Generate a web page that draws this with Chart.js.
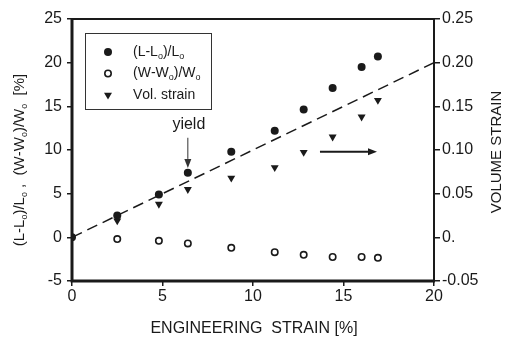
<!DOCTYPE html>
<html>
<head>
<meta charset="utf-8">
<script src="https://cdn.jsdelivr.net/npm/chart.js@4"></script>
<style>
  html, body { margin: 0; padding: 0; background: #fff; }
  #wrap { width: 505px; height: 338px; }
</style>
</head>
<body>
<div id="wrap"><canvas id="strainChart" width="505" height="338"></canvas></div>
<script>
// engineering strain [%] at each measurement
const strainX = [0, 2.5, 4.8, 6.4, 8.8, 11.2, 12.8, 14.4, 16.0, 16.9];
// (L-Lo)/Lo [%]
const lengthStrain = [0, 2.5, 4.9, 7.4, 9.8, 12.2, 14.65, 17.1, 19.5, 20.7];
// (W-Wo)/Wo [%]
const widthStrainX = [2.5, 4.8, 6.4, 8.8, 11.2, 12.8, 14.4, 16.0, 16.9];
const widthStrain = [-0.2, -0.4, -0.7, -1.2, -1.7, -2.0, -2.25, -2.25, -2.35];
// volume strain (right axis)
const volStrainX = [2.5, 4.8, 6.4, 8.8, 11.2, 12.8, 14.4, 16.0, 16.9];
const volStrain = [0.019, 0.038, 0.055, 0.068, 0.080, 0.0975, 0.115, 0.138, 0.157];
// dashed reference line
const refX = [0, 20];
const refY = [0, 20];

const leftTicks = [-5, 0, 5, 10, 15, 20, 25];
const rightTicks = [-0.05, 0, 0.05, 0.10, 0.15, 0.20, 0.25];
const bottomTicks = [0, 5, 10, 15, 20];

const FONT = '"Liberation Sans", Arial, sans-serif';
const INK = '#1a1a1a';

function pts(xs, ys) {
    return xs.map((x, i) => ({ x: x, y: ys[i] }));
}

// draws text where "_o" means a subscript o
function richText(ctx, text, x, y, size, align) {
    const parts = [];
    for (let i = 0; i < text.length; i++) {
        if (text[i] === '_') { parts.push({ t: text[i + 1], sub: true }); i++; }
        else parts.push({ t: text[i], sub: false });
    }
    const subSize = Math.round(size * 0.62);
    let w = 0;
    parts.forEach(p => {
        ctx.font = (p.sub ? subSize : size) + 'px ' + FONT;
        p.w = ctx.measureText(p.t).width;
        w += p.w;
    });
    let cx = align === 'center' ? x - w / 2 : x;
    ctx.textBaseline = 'middle';
    ctx.textAlign = 'left';
    parts.forEach(p => {
        ctx.font = (p.sub ? subSize : size) + 'px ' + FONT;
        ctx.fillText(p.t, cx, p.sub ? y + size * 0.32 : y);
        cx += p.w;
    });
}

function arrow(ctx, x1, y1, x2, y2) {
    const a = Math.atan2(y2 - y1, x2 - x1);
    const head = 9, half = 3.5;
    ctx.beginPath();
    ctx.moveTo(x1, y1);
    ctx.lineTo(x2 - Math.cos(a) * head, y2 - Math.sin(a) * head);
    ctx.stroke();
    ctx.beginPath();
    ctx.moveTo(x2, y2);
    ctx.lineTo(x2 - Math.cos(a) * head - Math.sin(a) * half, y2 - Math.sin(a) * head + Math.cos(a) * half);
    ctx.lineTo(x2 - Math.cos(a) * head + Math.sin(a) * half, y2 - Math.sin(a) * head - Math.cos(a) * half);
    ctx.closePath();
    ctx.fill();
}

// keep the plot box fixed: no extra room for overhanging tick labels
function noOverhang(s) {
    s.paddingTop = 0; s.paddingBottom = 0;
    s.paddingLeft = 0; s.paddingRight = 0;
}

const decorPlugin = {
    id: 'decor',
    afterDraw(chart) {
        const ctx = chart.ctx;
        const ca = chart.chartArea;
        const x = chart.scales.x, y = chart.scales.y, y1 = chart.scales.y1;
        ctx.save();
        ctx.strokeStyle = INK;
        ctx.fillStyle = INK;

        // frame
        ctx.lineWidth = 2;
        ctx.beginPath();
        ctx.moveTo(ca.left, ca.top);
        ctx.lineTo(ca.right, ca.top);
        ctx.lineTo(ca.right, ca.bottom);
        ctx.stroke();
        ctx.lineWidth = 3;
        ctx.beginPath();
        ctx.moveTo(ca.left, ca.top - 1);
        ctx.lineTo(ca.left, ca.bottom);
        ctx.lineTo(ca.right + 1, ca.bottom);
        ctx.stroke();

        // legend box
        const lx = ca.left + 13, ly = ca.top + 14;
        ctx.lineWidth = 1;
        ctx.strokeStyle = '#333';
        ctx.strokeRect(lx + 0.5, ly + 0.5, 126, 76);
        const rows = [
            { label: '(L-L_o)/L_o', ds: 0 },
            { label: '(W-W_o)/W_o', ds: 1 },
            { label: 'Vol. strain', ds: 2 }
        ];
        rows.forEach((r, i) => {
            const ry = ly + 19 + i * 21.5;
            const o = chart.getDatasetMeta(r.ds).data[0].options;
            ctx.fillStyle = o.backgroundColor;
            ctx.strokeStyle = o.borderColor;
            ctx.lineWidth = o.borderWidth;
            Chart.helpers.drawPoint(ctx, o, lx + 23, ry);
            ctx.fillStyle = INK;
            richText(ctx, r.label, lx + 48, ry, 14, 'left');
        });

        // yield marker
        ctx.strokeStyle = '#333';
        ctx.fillStyle = '#333';
        ctx.lineWidth = 1;
        const yx = x.getPixelForValue(6.4);
        arrow(ctx, yx, y.getPixelForValue(11.4), yx, y.getPixelForValue(7.95));
        ctx.fillStyle = INK;
        ctx.font = '16px ' + FONT;
        ctx.textAlign = 'center';
        ctx.textBaseline = 'middle';
        ctx.fillText('yield', yx + 1, y.getPixelForValue(12.9));

        // arrow pointing to the right axis
        ctx.lineWidth = 2;
        ctx.strokeStyle = INK;
        const ay = y1.getPixelForValue(0.098);
        arrow(ctx, x.getPixelForValue(13.7), ay, x.getPixelForValue(16.85), ay);

        // axis titles
        ctx.fillStyle = INK;
        ctx.save();
        ctx.translate(20, 160);
        ctx.rotate(-Math.PI / 2);
        richText(ctx, '(L-L_o)/L_o ,  (W-W_o)/W_o  [%]', 0, 0, 15, 'center');
        ctx.restore();

        ctx.save();
        ctx.translate(497, 152);
        ctx.rotate(-Math.PI / 2);
        ctx.font = '15px ' + FONT;
        ctx.textAlign = 'center';
        ctx.textBaseline = 'middle';
        ctx.fillText('VOLUME STRAIN', 0, 0);
        ctx.restore();

        ctx.font = '16px ' + FONT;
        ctx.textAlign = 'center';
        ctx.textBaseline = 'middle';
        ctx.fillText('ENGINEERING  STRAIN [%]', 254, 329);

        ctx.restore();
    }
};

const tickFont = { family: FONT, size: 16 };

new Chart(document.getElementById('strainChart'), {
    type: 'scatter',
    data: {
        datasets: [
            {
                label: '(L-Lo)/Lo',
                data: pts(strainX, lengthStrain),
                yAxisID: 'y',
                pointStyle: 'circle',
                pointRadius: 4,
                backgroundColor: INK,
                borderColor: INK,
                borderWidth: 0
            },
            {
                label: '(W-Wo)/Wo',
                data: pts(widthStrainX, widthStrain),
                yAxisID: 'y',
                pointStyle: 'circle',
                pointRadius: 3.2,
                backgroundColor: '#fff',
                borderColor: INK,
                borderWidth: 1.6
            },
            {
                label: 'Vol. strain',
                data: pts(volStrainX, volStrain),
                yAxisID: 'y1',
                pointStyle: 'triangle',
                pointRotation: 180,
                pointRadius: 4.6,
                backgroundColor: INK,
                borderColor: INK,
                borderWidth: 0
            },
            {
                type: 'line',
                label: 'fit',
                data: pts(refX, refY),
                yAxisID: 'y',
                borderColor: INK,
                borderWidth: 1.5,
                borderDash: [11, 6],
                pointRadius: 0,
                fill: false
            }
        ]
    },
    options: {
        responsive: false,
        animation: false,
        layout: { padding: { top: 19, left: 0, right: 0, bottom: 0 } },
        plugins: {
            legend: { display: false },
            tooltip: { enabled: false }
        },
        scales: {
            x: {
                type: 'linear',
                min: 0, max: 20,
                afterBuildTicks: s => { s.ticks = bottomTicks.map(v => ({ value: v })); },
                afterFit: s => { s.height = 57; noOverhang(s); },
                border: { display: false },
                grid: { drawOnChartArea: false, tickLength: 5, color: INK, tickColor: INK, lineWidth: 1.5 },
                ticks: { color: INK, font: tickFont, padding: 1 }
            },
            y: {
                position: 'left',
                min: -5, max: 25,
                afterBuildTicks: s => { s.ticks = leftTicks.map(v => ({ value: v })); },
                afterFit: s => { s.width = 72; noOverhang(s); },
                border: { display: false },
                grid: { drawOnChartArea: false, tickLength: 5, tickColor: INK, lineWidth: 1.5 },
                ticks: { color: INK, font: tickFont, padding: 5 }
            },
            y1: {
                position: 'right',
                min: -0.05, max: 0.25,
                afterBuildTicks: s => { s.ticks = rightTicks.map(v => ({ value: v })); },
                afterFit: s => { s.width = 71; noOverhang(s); },
                border: { display: false },
                grid: { drawOnChartArea: false, tickLength: 6, tickColor: INK, lineWidth: 1.5 },
                ticks: {
                    color: INK, font: tickFont, padding: 2,
                    callback: v => Math.abs(v) < 1e-9 ? '0.' : v.toFixed(2)
                }
            }
        }
    },
    plugins: [decorPlugin]
});
</script>
</body>
</html>
